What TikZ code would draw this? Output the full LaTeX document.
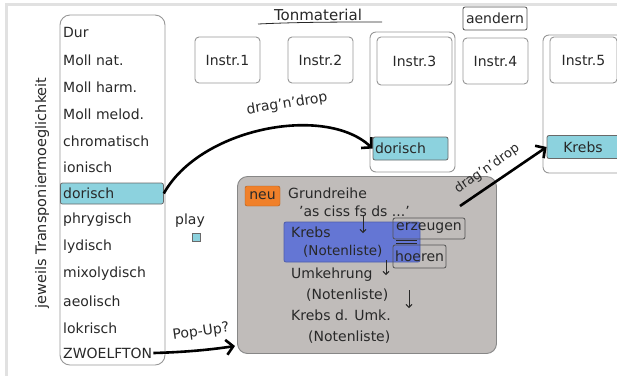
\documentclass[tikz,border=0pt]{standalone}
\usepackage{fontspec}
\setmainfont{DejaVu Sans}
\usetikzlibrary{arrows.meta}
\definecolor{ink}{RGB}{40,40,40}
\definecolor{boxgray}{RGB}{150,150,150}
\definecolor{framegray}{RGB}{225,225,225}
\definecolor{tealfill}{RGB}{140,210,222}
\definecolor{graufill}{RGB}{192,188,186}
\definecolor{graudraw}{RGB}{135,135,135}
\definecolor{neuorange}{RGB}{240,128,42}
\definecolor{krebsblue}{RGB}{100,118,212}
\tikzset{
  hand/.style={font=\fontsize{14}{16}\selectfont,text=ink,inner sep=1pt},
  listitem/.style={hand,anchor=west},
  instrbox/.style={hand,draw=boxgray,line width=0.9pt,rounded corners=4pt,minimum width=65pt,minimum height=46pt},
  holder/.style={draw=boxgray,line width=0.9pt,rounded corners=6pt},
  chip/.style={hand,draw=boxgray!70!black,fill=tealfill,line width=0.8pt,rounded corners=2pt,inner sep=2pt},
  knob/.style={hand,draw=ink!80,line width=0.8pt,rounded corners=2pt,inner sep=1pt},
  bigarrow/.style={draw=black,line width=2.6pt,-{Straight Barb[length=7pt,width=15pt]}},
  smallarrow/.style={draw=ink,line width=0.9pt,-{Straight Barb[length=3pt,width=6pt]}}
}
\begin{document}
\begin{tikzpicture}[x=1pt,y=-1pt]
\useasboundingbox (0,0) rectangle (617,376);
% frame
\draw[framegray,line width=3pt] (617,4) -- (6,4) -- (6,376);
% list of scales
\node[holder,rounded corners=10pt,minimum width=105pt,minimum height=350pt] (liste) at (112.5,190) {};
\node[chip,anchor=west,minimum width=103pt,minimum height=21pt] (dorsel) at (60,193.5) {};
\node[hand,rotate=90,font=\fontsize{14.5}{16}\selectfont] (jeweils) at (42,193) {jeweils Transponiermoeglichkeit};
\node[listitem] (dur) at (62,32) {Dur};
\node[listitem] (mollnat) at (62,60) {Moll nat.};
\node[listitem] (mollharm) at (62,87) {Moll harm.};
\node[listitem] (mollmel) at (62,114) {Moll melod.};
\node[listitem] (chrom) at (62,141) {chromatisch};
\node[listitem] (ion) at (62,167) {ionisch};
\node[listitem] (dor) at (62,193) {dorisch};
\node[listitem] (phryg) at (62,220) {phrygisch};
\node[listitem] (lyd) at (62,247) {lydisch};
\node[listitem] (mixo) at (62,274) {mixolydisch};
\node[listitem] (aeol) at (62,301) {aeolisch};
\node[listitem] (lokr) at (62,328) {lokrisch};
\node[listitem] (zwoelf) at (62,353) {ZWOELFTON};
% play
\node[hand] (play) at (190,221) {play};
\node[draw=boxgray!70!black,fill=tealfill,line width=0.6pt,minimum size=8pt,inner sep=0pt] (playbtn) at (196,237) {};
% instruments
\node[hand,font=\fontsize{15}{16}\selectfont] (ton) at (318,15) {Tonmaterial};
\draw[ink,line width=0.8pt] (258,24) .. controls (300,22) and (340,22) .. (382,22);
\node[knob,minimum width=64pt,minimum height=23pt] (aendern) at (495,18.5) {aendern};
\node[holder,minimum width=85pt,minimum height=140pt] (holdIII) at (412.5,102) {};
\node[holder,minimum width=84pt,minimum height=138pt] (holdV) at (585,104) {};
\node[instrbox] (instrI) at (227.5,60) {Instr.1};
\node[instrbox] (instrII) at (320.5,60) {Instr.2};
\node[instrbox,minimum width=75pt,minimum height=48pt] (instrIII) at (414.5,61) {Instr.3};
\node[instrbox] (instrIV) at (495.5,61) {Instr.4};
\node[instrbox,minimum width=67pt] (instrV) at (583.5,60) {Instr.5};
\node[chip,text width=71pt,align=left,minimum height=23pt] (dorIII) at (410.5,148.5) {dorisch};
\node[chip,minimum width=72pt,minimum height=23pt] (krebsV) at (583,147) {Krebs};
% row panel
\node[draw=graudraw,fill=graufill,line width=0.9pt,rounded corners=10pt,minimum width=259pt,minimum height=177pt] (grau) at (367,265) {};
\node[hand,fill=neuorange,draw=neuorange!70!black,rounded corners=2pt,minimum width=35pt,minimum height=20pt] (neu) at (262.5,196) {neu};
\node[listitem] (grundreihe) at (287,193) {Grundreihe};
\node[listitem] (reihe) at (298,211) {'as ciss fs ds ...'};
\node[draw=krebsblue!80!black,fill=krebsblue,line width=0.8pt,rounded corners=2pt,minimum width=136pt,minimum height=40pt] (krebsfeld) at (352,242) {};
\node[listitem] (krebs) at (290,232) {Krebs};
\node[listitem,font=\fontsize{13.5}{16}\selectfont] (krebsnl) at (302,251) {(Notenliste)};
\node[knob,minimum width=72pt,minimum height=21pt] (erzeugen) at (429,228.5) {erzeugen};
\node[knob,minimum width=53pt,minimum height=23pt] (hoeren) at (419.5,256.5) {hoeren};
\draw[ink,line width=0.9pt] (396,240) -- (417,240) (396,243.5) -- (417,243.5);
\node[listitem] (umk) at (290,275) {Umkehrung};
\node[listitem] (umknl) at (305,295) {(Notenliste)};
\node[listitem] (krumk) at (290,315) {Krebs d. Umk.};
\node[listitem] (krumknl) at (307,337) {(Notenliste)};
\coordinate (aI) at (363,215);
\coordinate (bI) at (363,233);
\coordinate (aII) at (386,260);
\coordinate (bII) at (386,275);
\coordinate (aIII) at (409,290);
\coordinate (bIII) at (409,308);
\draw[smallarrow] (aI) -- (bI);
\draw[smallarrow] (aII) -- (bII);
\draw[smallarrow] (aIII) -- (bIII);
% drag'n'drop and pop-up
\node[hand,rotate=9] (dragI) at (287,104) {drag'n'drop};
\draw[bigarrow] (dorsel.east) .. controls (200,128) and (325,104) .. (dorIII.west);
\coordinate (dragstart) at (460,206);
\node[hand,rotate=35,font=\fontsize{13}{15}\selectfont] (dragII) at (487,169) {drag'n'drop};
\draw[bigarrow] (dragstart) -- (krebsV.west);
\node[hand,rotate=8] (popup) at (201,332) {Pop-Up?};
\coordinate (popend) at (235,346);
\draw[bigarrow] (zwoelf.east) .. controls (190,352) and (215,349) .. (popend);
\end{tikzpicture}
\end{document}
